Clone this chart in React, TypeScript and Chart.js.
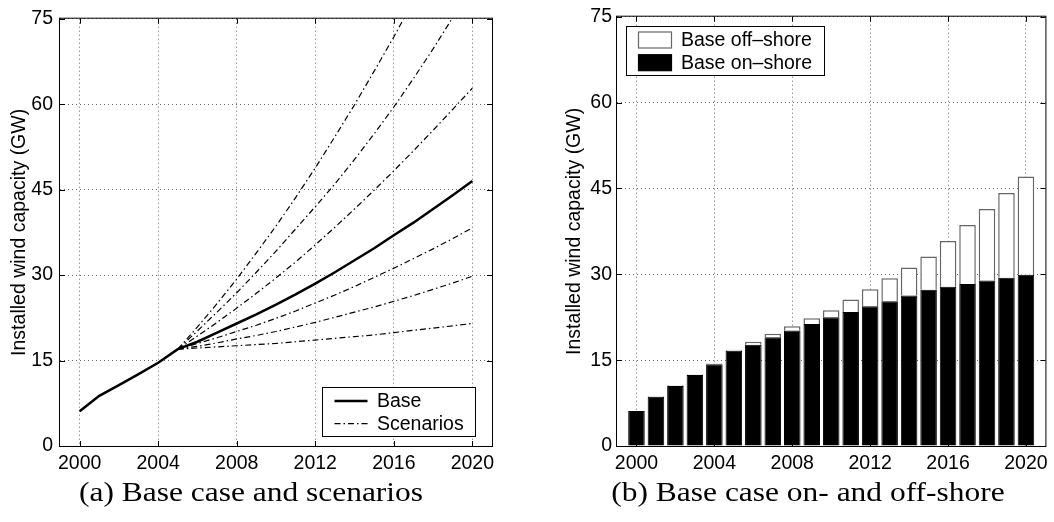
import React, { useEffect, useRef } from 'react';
import { Chart, registerables } from 'chart.js';

Chart.register(...registerables);

// ---- data ----
const years = [2000, 2001, 2002, 2003, 2004, 2005, 2006, 2007, 2008, 2009, 2010, 2011, 2012, 2013, 2014, 2015, 2016, 2017, 2018, 2019, 2020];
const baseCapacity = [6.1, 8.8, 10.7, 12.6, 14.6, 17.0, 18.3, 19.9, 21.5, 23.1, 24.8, 26.6, 28.5, 30.5, 32.6, 34.7, 37.0, 39.2, 41.6, 44.0, 46.5];

const scenarioYears = [2005, 2006, 2007, 2008, 2009, 2010, 2011, 2012, 2013, 2014, 2015, 2016, 2017, 2018, 2019, 2020];
const scenarioLowest = [17.0, 17.2, 17.4, 17.6, 17.8, 18.0, 18.3, 18.6, 18.9, 19.2, 19.5, 19.9, 20.3, 20.7, 21.1, 21.5];
const scenarioLow = [17.0, 17.5, 18.1, 18.8, 19.4, 20.1, 20.9, 21.7, 22.6, 23.5, 24.4, 25.4, 26.4, 27.5, 28.6, 29.8];
const scenarioMidLow = [17.0, 18.0, 19.0, 20.1, 21.2, 22.4, 23.7, 25.1, 26.5, 28.0, 29.6, 31.2, 32.9, 34.6, 36.4, 38.3];
const scenarioMidHigh = [17.0, 19.3, 21.7, 24.2, 26.8, 29.5, 32.3, 35.3, 38.4, 41.6, 44.9, 48.3, 51.8, 55.4, 59.1, 62.8];
const scenarioHigh = [17.0, 20.2, 23.5, 26.9, 30.5, 34.2, 38.1, 42.0, 46.0, 50.3, 54.8, 59.5, 64.5, 69.7, 75.2, 80.8];
const scenarioHighest = [17.0, 20.9, 25.0, 29.3, 33.9, 38.6, 43.6, 48.8, 54.3, 59.9, 65.8, 71.8, 78.2, 84.8, 91.6, 98.6];
const scenarioSeries = [scenarioLowest, scenarioLow, scenarioMidLow, scenarioMidHigh, scenarioHigh, scenarioHighest];

const onshoreCapacity = [6.1, 8.6, 10.5, 12.4, 14.3, 16.65, 17.7, 19.0, 20.2, 21.3, 22.5, 23.4, 24.4, 25.3, 26.3, 27.3, 27.8, 28.3, 28.9, 29.4, 29.9];
const offshoreCapacity = [0, 0.1, 0.1, 0.1, 0.1, 0.15, 0.5, 0.6, 0.7, 1.0, 1.2, 2.2, 3.0, 4.0, 4.9, 5.8, 8.0, 10.3, 12.5, 14.8, 17.2];

const xTickValues = [2000, 2004, 2008, 2012, 2016, 2020];
const yTickValues = [0, 15, 30, 45, 60, 75];
const yAxisTitle = 'Installed wind capacity (GW)';

// ---- styling ----
const SANS = "'Liberation Sans', Arial, Helvetica, sans-serif";
const TICK_FONT = { family: SANS, size: 19.5, lineHeight: 1.2 };
const LEGEND_FONT_SIZE = 19.5;
const TITLE_FONT = { family: SANS, size: 19.5, lineHeight: 1 };
const GRID_COLOR = 'rgba(0,0,0,0.6)';
const CANVAS_W = 527;
const CANVAS_H = 522;
const PLOT_TOP = 15;
const PLOT_BOTTOM = 446;
const X_AXIS_H = 30;
const DASH_DOT = [6, 3, 1.5, 3];

// Closed box around the plot area with inward tick marks on all four sides.
const plotFrame = {
  id: 'plotFrame',
  afterDatasetsDraw(chart: any) {
    const { ctx, chartArea: a, scales } = chart;
    const xs = scales.x;
    const ys = scales.y;
    const tick = 5;
    ctx.save();
    ctx.setLineDash([]);
    ctx.strokeStyle = '#000';
    ctx.lineWidth = 1;
    ctx.beginPath();
    xTickValues.forEach((v) => {
      const px = Math.round(xs.getPixelForValue(v)) + 0.5;
      ctx.moveTo(px, a.bottom);
      ctx.lineTo(px, a.bottom - tick);
      ctx.moveTo(px, a.top);
      ctx.lineTo(px, a.top + tick);
    });
    yTickValues.forEach((v) => {
      const py = Math.round(ys.getPixelForValue(v)) + 0.5;
      ctx.moveTo(a.left, py);
      ctx.lineTo(a.left + tick, py);
      ctx.moveTo(a.right, py);
      ctx.lineTo(a.right - tick, py);
    });
    ctx.stroke();
    ctx.strokeRect(a.left - 0.5, a.top - 0.5, a.right - a.left + 1, a.bottom - a.top + 1);
    ctx.restore();
  },
};

type LegendEntry = { label: string; datasetIndex: number; kind: 'line' | 'box' };
type LegendLayout = { corner: 'bottom-right' | 'top-left'; dx: number; dy: number; entries: LegendEntry[] };

// Boxed legend placed inside the plot area.
function boxedLegend(layout: LegendLayout) {
  return {
    id: 'boxedLegend',
    afterDraw(chart: any) {
      const { ctx, chartArea: a } = chart;
      const sampleX = 12;
      const sampleW = 33;
      const textX = 54.5;
      const rowTop = 13.5;
      const rowGap = 22.7;
      const h = 48.5;
      ctx.save();
      ctx.font = `${LEGEND_FONT_SIZE}px ${SANS}`;
      const textW = Math.max(...layout.entries.map((e) => ctx.measureText(e.label).width));
      const w = textX + textW + 12;
      const x0 = layout.corner === 'bottom-right' ? a.right - layout.dx - w : a.left + layout.dx;
      const y0 = layout.corner === 'bottom-right' ? a.bottom - layout.dy - h : a.top + layout.dy;
      const bx = Math.round(x0) + 0.5;
      const by = Math.round(y0) + 0.5;
      ctx.fillStyle = '#fff';
      ctx.fillRect(bx, by, Math.round(w), Math.round(h));
      ctx.setLineDash([]);
      ctx.strokeStyle = '#000';
      ctx.lineWidth = 1;
      ctx.strokeRect(bx, by, Math.round(w), Math.round(h));
      layout.entries.forEach((e, i) => {
        const ds = chart.data.datasets[e.datasetIndex];
        const cy = by + rowTop + i * rowGap;
        if (e.kind === 'line') {
          ctx.save();
          ctx.strokeStyle = ds.borderColor;
          ctx.lineWidth = ds.borderWidth;
          ctx.setLineDash(ds.borderDash || []);
          ctx.beginPath();
          ctx.moveTo(bx + sampleX, cy);
          ctx.lineTo(bx + sampleX + sampleW, cy);
          ctx.stroke();
          ctx.restore();
        } else {
          ctx.fillStyle = ds.backgroundColor;
          ctx.fillRect(bx + sampleX, cy - 8, sampleW, 16);
          ctx.strokeStyle = ds.borderColor;
          ctx.lineWidth = 1.2;
          ctx.strokeRect(bx + sampleX, cy - 8, sampleW, 16);
        }
        ctx.fillStyle = '#000';
        ctx.textBaseline = 'middle';
        ctx.textAlign = 'left';
        ctx.fillText(e.label, bx + textX, cy + 1);
      });
      ctx.restore();
    },
  };
}

function axisOptions(yAxisWidth: number, titleCenter: number, tickGap: number, stacked: boolean) {
  return {
    x: {
      type: 'linear',
      min: 1999,
      max: 2021,
      offset: false,
      stacked,
      afterBuildTicks: (s: any) => {
        s.ticks = xTickValues.map((value) => ({ value }));
      },
      afterFit: (s: any) => {
        s.height = X_AXIS_H;
      },
      grid: { color: GRID_COLOR, lineWidth: 1, drawTicks: false, offset: false },
      border: { display: false, dash: [1, 3] },
      ticks: {
        font: TICK_FONT,
        color: '#000',
        padding: 6,
        maxRotation: 0,
        autoSkip: false,
        callback: (v: number) => String(v),
      },
    },
    y: {
      min: 0,
      max: 75,
      stacked,
      afterBuildTicks: (s: any) => {
        s.ticks = yTickValues.map((value) => ({ value }));
      },
      afterFit: (s: any) => {
        s.width = yAxisWidth;
      },
      grid: { color: GRID_COLOR, lineWidth: 1, drawTicks: false },
      border: { display: false, dash: [1, 3] },
      ticks: {
        font: TICK_FONT,
        color: '#000',
        padding: tickGap,
        callback: (v: number) => String(v),
      },
      title: {
        display: true,
        text: yAxisTitle,
        color: '#000',
        font: TITLE_FONT,
        padding: { top: titleCenter - TITLE_FONT.size / 2, bottom: 0 },
      },
    },
  };
}

function ScenarioChart() {
  const ref = useRef<HTMLCanvasElement>(null);
  useEffect(() => {
    if (!ref.current) return;
    const datasets: any[] = [
      {
        label: 'Base',
        data: years.map((x, i) => ({ x, y: baseCapacity[i] })),
        borderColor: '#000',
        borderWidth: 2.5,
        borderDash: [],
        pointRadius: 0,
        tension: 0,
      },
      ...scenarioSeries.map((values) => ({
        label: 'Scenarios',
        data: scenarioYears.map((x, i) => ({ x, y: values[i] })),
        borderColor: '#000',
        borderWidth: 1.2,
        borderDash: DASH_DOT,
        pointRadius: 0,
        tension: 0,
      })),
    ];
    const chart = new Chart(ref.current, {
      type: 'line',
      data: { datasets },
      options: {
        animation: false,
        responsive: false,
        devicePixelRatio: 1,
        layout: { padding: { left: 0, top: PLOT_TOP, right: CANVAS_W - 492, bottom: CANVAS_H - PLOT_BOTTOM - X_AXIS_H } },
        plugins: { legend: { display: false }, tooltip: { enabled: false } },
        scales: axisOptions(60, 20, 7, false) as any,
      },
      plugins: [
        plotFrame,
        boxedLegend({
          corner: 'bottom-right',
          dx: 17,
          dy: 11,
          entries: [
            { label: 'Base', datasetIndex: 0, kind: 'line' },
            { label: 'Scenarios', datasetIndex: 1, kind: 'line' },
          ],
        }),
      ],
    } as any);
    return () => chart.destroy();
  }, []);
  return (
    <canvas
      ref={ref}
      width={CANVAS_W}
      height={CANVAS_H}
      style={{ position: 'absolute', left: 0, top: 0, width: CANVAS_W, height: CANVAS_H }}
    />
  );
}

function SplitChart() {
  const ref = useRef<HTMLCanvasElement>(null);
  useEffect(() => {
    if (!ref.current) return;
    const chart = new Chart(ref.current, {
      type: 'bar',
      data: {
        datasets: [
          {
            label: 'Base on\u2013shore',
            data: years.map((x, i) => ({ x, y: onshoreCapacity[i] })),
            backgroundColor: '#000',
            borderColor: '#000',
            borderWidth: 1,
            barPercentage: 0.85,
            categoryPercentage: 1,
          },
          {
            label: 'Base off\u2013shore',
            data: years.map((x, i) => ({ x, y: offshoreCapacity[i] })),
            backgroundColor: '#fff',
            borderColor: '#666',
            borderWidth: 1.5,
            barPercentage: 0.85,
            categoryPercentage: 1,
          },
        ],
      },
      options: {
        animation: false,
        responsive: false,
        devicePixelRatio: 1,
        layout: { padding: { left: 0, top: PLOT_TOP, right: CANVAS_W - 519, bottom: CANVAS_H - PLOT_BOTTOM - X_AXIS_H } },
        plugins: { legend: { display: false }, tooltip: { enabled: false } },
        scales: axisOptions(90, 48, 5, true) as any,
      },
      plugins: [
        plotFrame,
        boxedLegend({
          corner: 'top-left',
          dx: 9,
          dy: 9,
          entries: [
            { label: 'Base off\u2013shore', datasetIndex: 1, kind: 'box' },
            { label: 'Base on\u2013shore', datasetIndex: 0, kind: 'box' },
          ],
        }),
      ],
    } as any);
    return () => chart.destroy();
  }, []);
  return (
    <canvas
      ref={ref}
      width={CANVAS_W}
      height={CANVAS_H}
      style={{ position: 'absolute', left: CANVAS_W, top: 0, width: CANVAS_W, height: CANVAS_H }}
    />
  );
}

function captionStyle(centerX: number): React.CSSProperties {
  return {
    position: 'absolute',
    left: centerX - 300,
    width: 600,
    top: 479,
    textAlign: 'center',
    fontFamily: "'Liberation Serif', 'Times New Roman', serif",
    fontSize: 27,
    lineHeight: '27px',
    whiteSpace: 'nowrap',
    color: '#000',
    transform: 'scaleX(1.165)',
    transformOrigin: 'center',
  };
}

export default function App() {
  return (
    <div style={{ position: 'absolute', left: 0, top: 0, width: 1054, height: 522, background: '#fff', overflow: 'hidden' }}>
      <ScenarioChart />
      <SplitChart />
      <div style={captionStyle(251)}>(a) Base case and scenarios</div>
      <div style={captionStyle(807.5)}>(b) Base case on- and off-shore</div>
    </div>
  );
}
